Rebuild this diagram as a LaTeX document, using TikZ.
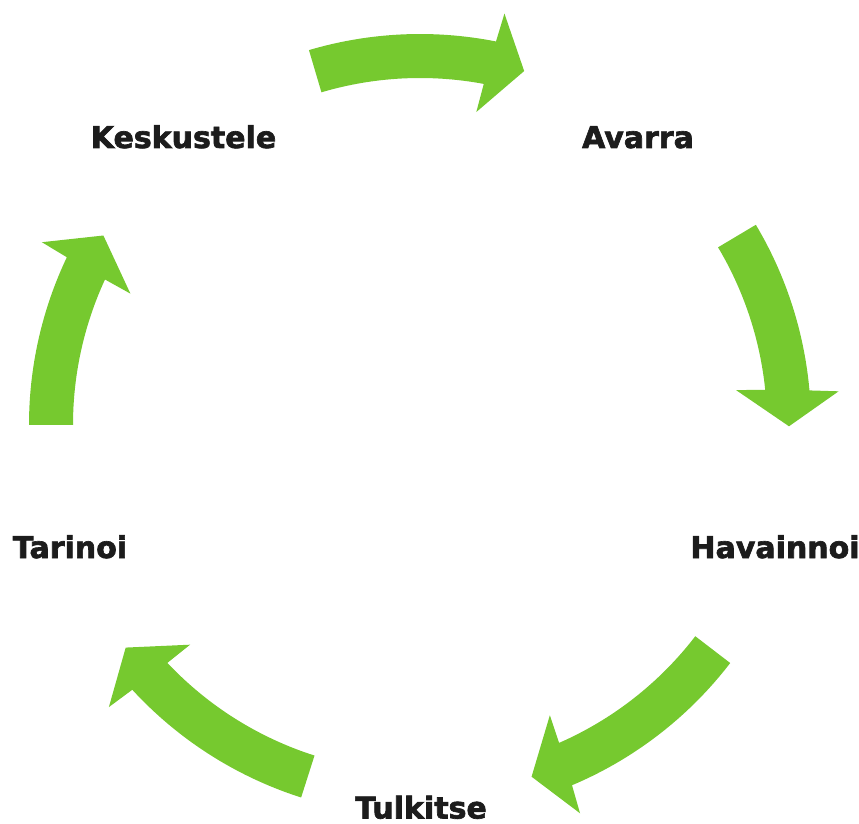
\documentclass[tikz,border=0pt]{standalone}
\usepackage{fontspec}
\setmainfont{DejaVu Sans}
\newfontfamily\heavyfont{DejaVu Sans}[BoldFeatures={FakeBold=2.2}]
\definecolor{arrowgreen}{RGB}{118,201,47}
\definecolor{labeltext}{RGB}{28,28,28}
\newcommand{\cyclearrow}[4]{%
  \pgfmathsetmacro{\oe}{#2+0.72*(#3-#2)}%
  \pgfmathsetmacro{\ie}{#2+0.28*(#3-#2)}%
  \fill[arrowgreen] ([shift={(C)}]#1:391) arc[start angle=#1, end angle=\oe, radius=391]
    -- ([shift={(C)}]#3:420) -- ([shift={(C)}]#4:369) -- ([shift={(C)}]#2:318)
    -- ([shift={(C)}]\ie:347) arc[start angle=\ie, end angle=#1, radius=347] -- cycle;%
}
\begin{document}
\begin{tikzpicture}[x=1pt,y=1pt,
  lbl/.style={font=\heavyfont\fontsize{30}{34}\selectfont\bfseries, text=labeltext, anchor=base, inner sep=0pt}]
\useasboundingbox (0,0) rectangle (859,823);
\coordinate (C) at (420,398);
\cyclearrow{106.5}{79.8}{78.4}{73.6}
\cyclearrow{30.8}{6.3}{4.6}{-0.2}
\cyclearrow{-37.5}{-65.9}{-67.6}{-72.4}
\cyclearrow{-107.7}{-136.3}{-137.8}{-142.9}
\cyclearrow{180}{155.6}{154.2}{149.1}
\node[lbl] (keskustele) at (183.5,675) {Keskustele};
\node[lbl] (avarra) at (638,675) {Avarra};
\node[lbl] (havainnoi) at (775,265) {Havainnoi};
\node[lbl] (tulkitse) at (421,4.5) {Tulkitse};
\node[lbl] (tarinoi) at (70,265) {Tarinoi};
\end{tikzpicture}
\end{document}
